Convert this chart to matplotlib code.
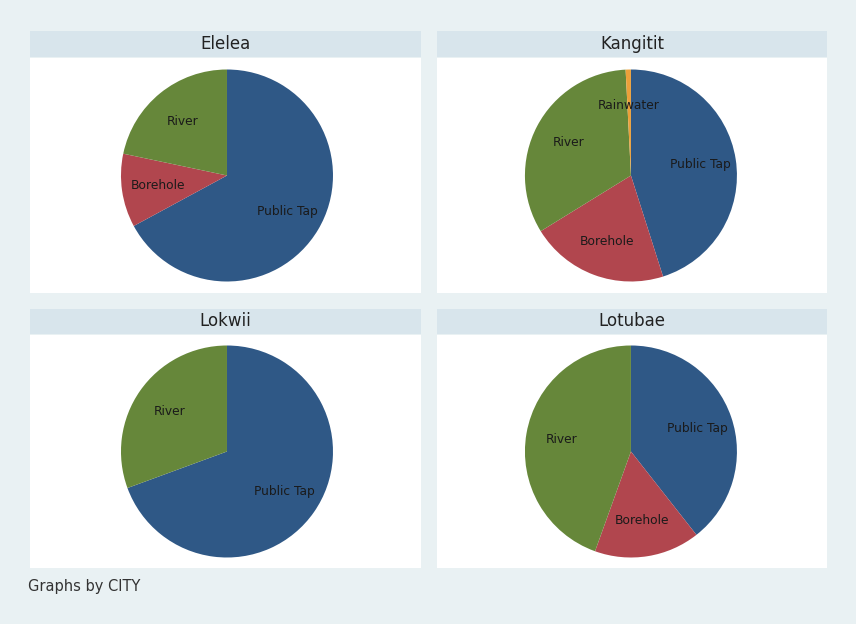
import matplotlib.pyplot as plt
import numpy as np

# water source shares per city (percent)
cities = ['Elelea', 'Kangitit', 'Lokwii', 'Lotubae']
sources = ['Public Tap', 'Borehole', 'River', 'Rainwater']
public_tap = [67.1, 45.1, 69.4, 39.4]
borehole = [11.2, 21.1, 0.0, 16.1]
river = [21.7, 33.0, 30.6, 44.5]
rainwater = [0.0, 0.8, 0.0, 0.0]

colors = ['#2f5886', '#b1464e', '#66873a', '#eba03a']
bg = '#e9f1f3'
strip = '#d8e5ec'

fig = plt.figure(figsize=(8.56, 6.24), dpi=100)
fig.set_facecolor(bg)
W, H = 856, 624

def fx(x):
    return x / W

def fy(y):
    return 1 - y / H

# panel boxes in pixels: (left, right, strip top, strip bottom, plot bottom)
boxes = [(30, 421, 31, 57, 293), (437, 827, 31, 57, 293),
         (30, 421, 309, 334, 568), (437, 827, 309, 334, 568)]
shift = [-0.014, 0.01, -0.014, 0.01]  # pie slightly off panel centre
radius_px = 106

for i, city in enumerate(cities):
    l, r, st, sb, pb = boxes[i]
    # title strip
    sax = fig.add_axes([fx(l), fy(sb), fx(r - l), (sb - st) / H])
    sax.set_facecolor(strip)
    sax.set_xticks([])
    sax.set_yticks([])
    for s in sax.spines.values():
        s.set_visible(False)
    sax.text(0.5, 0.5, city, ha='center', va='center', fontsize=12, color='#222222')

    # plot area
    pt = sb + 1
    ax = fig.add_axes([fx(l), fy(pb), fx(r - l), (pb - pt) / H])

    vals = [public_tap[i], borehole[i], river[i], rainwater[i]]
    keep = [j for j, v in enumerate(vals) if v > 0]
    wedges, texts = ax.pie([vals[j] for j in keep],
                           colors=[colors[j] for j in keep],
                           labels=[sources[j] for j in keep],
                           startangle=90, counterclock=False,
                           labeldistance=0.66, radius=1,
                           wedgeprops=dict(linewidth=0),
                           textprops=dict(fontsize=8.8, color='#1a1a1a'))
    for t in texts:
        t.set_ha('center')
        t.set_va('center')
    ax.set_frame_on(True)
    ax.patch.set_visible(True)
    ax.set_facecolor('white')
    for s in ax.spines.values():
        s.set_visible(False)
    ax.set_xticks([])
    ax.set_yticks([])
    w_units = (r - l) / radius_px
    h_units = (pb - pt) / radius_px
    ax.set_xlim(-w_units / 2 + shift[i], w_units / 2 + shift[i])
    ax.set_ylim(-h_units / 2, h_units / 2)
    ax.set_aspect('auto')

fig.text(fx(28), fy(587), 'Graphs by CITY', ha='left', va='center', fontsize=10.5, color='#333333')

plt.savefig('out.png', dpi=100, facecolor=bg)
